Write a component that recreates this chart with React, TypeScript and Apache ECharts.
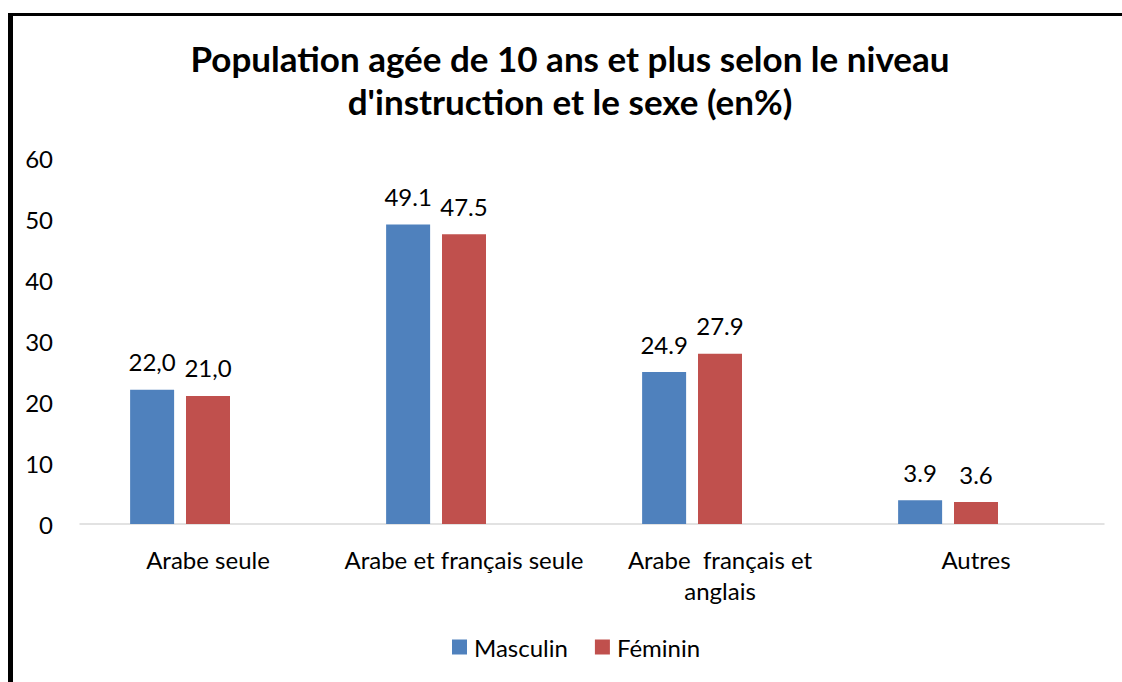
import React, { useEffect, useRef } from "react";
import * as echarts from "echarts";

const categories = ["Arabe seule", "Arabe et français seule", "Arabe  français et\nanglais", "Autres"];
const masculin = [22.0, 49.1, 24.9, 3.9];
const feminin = [21.0, 47.5, 27.9, 3.6];
const masculinLabels = ["22,0", "49.1", "24.9", "3.9"];
const femininLabels = ["21,0", "47.5", "27.9", "3.6"];
const yTicks = { min: 0, max: 60, interval: 10 };
const titleText = "Population agée de 10 ans et plus selon le niveau\nd'instruction et le sexe (en%)";

const FONT = "Lato, 'Noto Sans', sans-serif";

export default function App() {
  const ref = useRef<HTMLDivElement>(null);
  useEffect(() => {
    document.body.style.margin = "0";
    const chart = echarts.init(ref.current!, undefined, { renderer: "svg" });
    chart.setOption({
      animation: false,
      backgroundColor: "#ffffff",
      textStyle: { fontFamily: FONT },
      title: {
        text: titleText,
        left: 570,
        textAlign: "center",
        top: 36,
        padding: 0,
        textStyle: { fontFamily: FONT, fontSize: 35, fontWeight: "bold", color: "#000", lineHeight: 43 },
      },
      legend: {
        data: ["Masculin", "Féminin"],
        left: 447,
        top: 630,
        itemWidth: 15,
        itemHeight: 15,
        itemGap: 27,
        icon: "rect",
        textStyle: { fontFamily: FONT, fontSize: 24, color: "#000", padding: [0, 0, 0, 2] },
      },
      grid: { left: 80, right: 18, top: 158, bottom: 158, containLabel: false },
      xAxis: {
        type: "category",
        data: categories,
        axisLine: { lineStyle: { color: "#D9D9D9", width: 1.5 } },
        axisTick: { show: false },
        axisLabel: { fontFamily: FONT, fontSize: 24, color: "#000", margin: 20, lineHeight: 31, interval: 0 },
      },
      yAxis: {
        type: "value",
        min: yTicks.min,
        max: yTicks.max,
        interval: yTicks.interval,
        splitLine: { show: false },
        axisLine: { show: false },
        axisTick: { show: false },
        axisLabel: { fontFamily: FONT, fontSize: 24, color: "#000", margin: 27 },
      },
      series: [
        {
          name: "Masculin",
          type: "bar",
          data: masculin,
          barWidth: 44,
          barGap: "27%",
          itemStyle: { color: "#4F81BD" },
          label: {
            show: true,
            position: "top",
            distance: 16,
            fontFamily: FONT,
            fontSize: 24,
            color: "#000",
            formatter: (p: any) => masculinLabels[p.dataIndex],
          },
        },
        {
          name: "Féminin",
          type: "bar",
          data: feminin,
          barWidth: 44,
          barGap: "27%",
          itemStyle: { color: "#C0504D" },
          label: {
            show: true,
            position: "top",
            distance: 16,
            fontFamily: FONT,
            fontSize: 24,
            color: "#000",
            formatter: (p: any) => femininLabels[p.dataIndex],
          },
        },
        {
          name: "spacer",
          type: "bar",
          data: [null, null, null, null],
          barWidth: 44,
          barGap: "27%",
          silent: true,
        },
      ],
      graphic: [
        { type: "rect", shape: { x: 8, y: 13, width: 5, height: 669 }, style: { fill: "#000" } },
        { type: "rect", shape: { x: 8, y: 13, width: 1114, height: 3 }, style: { fill: "#000" } },
      ],
    });
    return () => chart.dispose();
  }, []);
  return <div ref={ref} style={{ position: "absolute", left: 0, top: 0, width: 1122, height: 682 }} />;
}
